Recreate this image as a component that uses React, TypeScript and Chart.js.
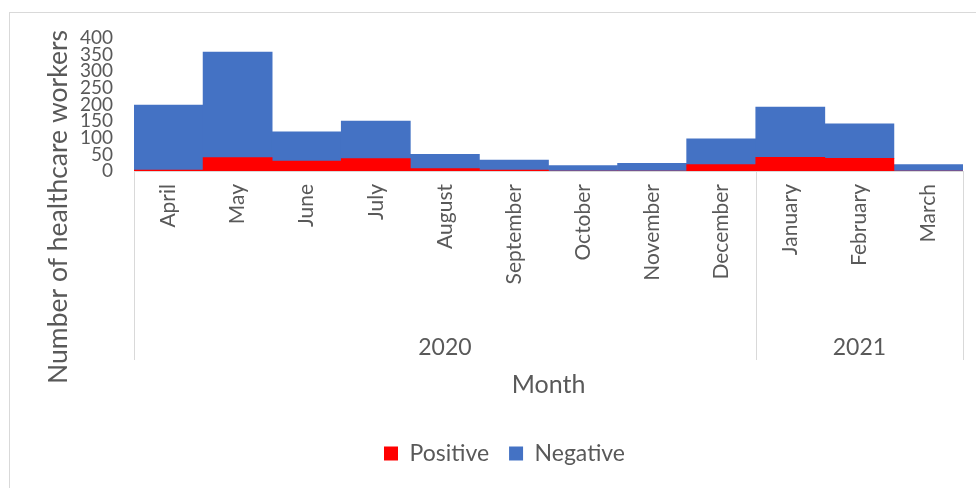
import React, { useEffect, useRef } from "react";
import { Chart, registerables } from "chart.js";

Chart.register(...registerables);

const months = [
  "April", "May", "June", "July", "August", "September",
  "October", "November", "December", "January", "February", "March",
];
const positive = [3, 40, 30, 37, 7, 3, 0, 0, 19, 41, 38, 0];
const negative = [195, 318, 88, 113, 43, 30, 16, 23, 78, 151, 104, 19];
const years = ["2020", "2021"];
const monthsPerYear = [9, 3];
const yTicks = { min: 0, max: 400, step: 50 };

const FONT = "Lato, 'Open Sans', sans-serif";
const GREY = "#595959";
const LINE = "#d9d9d9";

const groupPlugin = {
  id: "groupAxis",
  afterDraw(chart: any) {
    const { ctx } = chart;
    const x = chart.scales.x;
    const top = chart.chartArea.bottom;
    const lineBottom = 360;
    const yearY = 348;
    const boundary = (i: number) => {
      if (i <= 0) return x.left;
      if (i >= months.length) return x.right;
      return (x.getPixelForValue(i - 1) + x.getPixelForValue(i)) / 2;
    };
    ctx.save();
    ctx.strokeStyle = LINE;
    ctx.lineWidth = 1;
    let idx = 0;
    const edges: number[] = [0];
    monthsPerYear.forEach((n) => {
      idx += n;
      edges.push(idx);
    });
    edges.forEach((e) => {
      const px = Math.round(boundary(e)) + 0.5;
      ctx.beginPath();
      ctx.moveTo(px, top);
      ctx.lineTo(px, lineBottom);
      ctx.stroke();
    });
    ctx.fillStyle = GREY;
    ctx.font = `23px ${FONT}`;
    ctx.textAlign = "center";
    ctx.textBaseline = "middle";
    years.forEach((yr, i) => {
      const l = boundary(edges[i]);
      const r = boundary(edges[i + 1]);
      ctx.fillText(yr, (l + r) / 2, yearY);
    });
    // y axis title
    ctx.translate(58, 207);
    ctx.rotate(-Math.PI / 2);
    ctx.font = `26.5px ${FONT}`;
    ctx.fillText("Number of healthcare workers", 0, 0);
    ctx.restore();
  },
};

export default function App() {
  const ref = useRef<HTMLCanvasElement | null>(null);
  useEffect(() => {
    if (!ref.current) return;
    const chart = new Chart(ref.current, {
      type: "bar",
      data: {
        labels: months,
        datasets: [
          {
            label: "Positive",
            data: positive,
            backgroundColor: "#FF0000",
            categoryPercentage: 1,
            barPercentage: 1,
          },
          {
            label: "Negative",
            data: negative,
            backgroundColor: "#4472C4",
            categoryPercentage: 1,
            barPercentage: 1,
          },
        ],
      },
      options: {
        responsive: false,
        animation: false,
        devicePixelRatio: 1,
        layout: { padding: { left: 46, right: 13, top: 38, bottom: 13 } },
        plugins: {
          legend: {
            position: "bottom",
            labels: {
              boxWidth: 14,
              boxHeight: 14,
              padding: 20,
              color: GREY,
              font: { family: FONT, size: 23 },
            },
          },
          tooltip: { enabled: false },
        },
        scales: {
          x: {
            stacked: true,
            grid: { display: false, drawTicks: false },
            border: { display: true, color: LINE, width: 1 },
            ticks: {
              minRotation: 90,
              maxRotation: 90,
              autoSkip: false,
              padding: 13,
              color: GREY,
              font: { family: FONT, size: 21 },
            },
            title: {
              display: true,
              text: "Month",
              color: GREY,
              font: { family: FONT, size: 25 },
              padding: { top: 0, bottom: 22 },
            },
            afterFit(scale: any) {
              scale.height = 251;
            },
          },
          y: {
            stacked: true,
            min: yTicks.min,
            max: yTicks.max,
            grid: { display: false, drawTicks: false },
            border: { display: false },
            ticks: {
              stepSize: yTicks.step,
              autoSkip: false,
              padding: 21,
              color: GREY,
              font: { family: FONT, size: 19 },
            },
            afterFit(scale: any) {
              scale.width = 88;
            },
          },
        },
      },
      plugins: [groupPlugin],
    });
    return () => chart.destroy();
  }, []);
  return (
    <div style={{ position: "fixed", left: 0, top: 0, width: 976, height: 488, overflow: "hidden", background: "#fff" }}>
      <div
        style={{
          position: "absolute",
          left: 9,
          top: 12,
          width: 1100,
          height: 1100,
          border: `1px solid ${LINE}`,
          boxSizing: "border-box",
        }}
      />
      <canvas ref={ref} width={976} height={488} style={{ position: "absolute", left: 0, top: 0, width: 976, height: 488 }} />
    </div>
  );
}
